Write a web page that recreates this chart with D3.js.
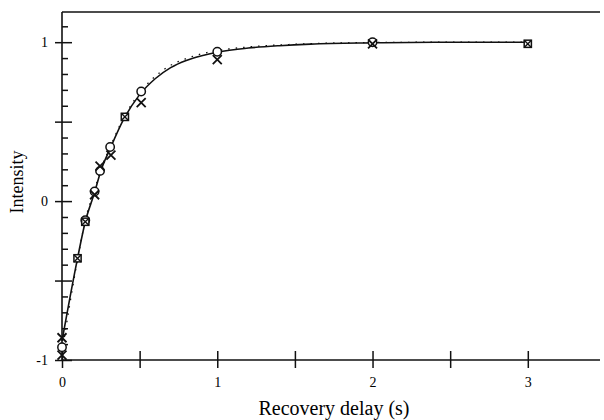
<!DOCTYPE html>
<html>
<head>
<meta charset="utf-8">
<script src="https://cdn.jsdelivr.net/npm/d3@7"></script>
<style>
  html, body { margin: 0; padding: 0; background: #fff; }
  svg { display: block; }
</style>
</head>
<body>
<svg id="chart" width="604" height="420"></svg>
<script>
// ---- data ----
const circleT = [0, 0.15, 0.21, 0.245, 0.31, 0.51, 1.0, 2.0];
const circleI = [-0.92, -0.12, 0.06, 0.19, 0.34, 0.69, 0.94, 1.0];

const crossT = [0, 0, 0.21, 0.245, 0.315, 0.51, 1.0, 2.0];
const crossI = [-0.86, -0.97, 0.04, 0.22, 0.29, 0.62, 0.89, 0.99];

const boxT = [0.1, 0.15, 0.405, 3.0];
const boxI = [-0.36, -0.13, 0.53, 0.99];

// solid fitted curve
const fitT = [0, 0.1, 0.15, 0.21, 0.25, 0.31, 0.4, 0.5, 0.6, 0.7, 0.8, 0.9, 1.0, 1.2, 1.4, 1.6, 2.0, 2.4, 3.0];
const fitI = [-0.88, -0.36, -0.13, 0.055, 0.19, 0.33, 0.52, 0.67, 0.77, 0.84, 0.885, 0.915, 0.937, 0.963, 0.978, 0.988, 0.996, 1.0, 1.0];

// dotted second curve
const dotT = [0, 0.1, 0.15, 0.21, 0.25, 0.31, 0.4, 0.5, 0.6, 0.7, 0.8, 0.9, 1.0, 1.2, 1.5, 2.0, 2.5, 3.0];
const dotI = [-0.95, -0.37, -0.12, 0.07, 0.2, 0.34, 0.53, 0.68, 0.785, 0.855, 0.897, 0.927, 0.947, 0.97, 0.987, 0.998, 1.0, 1.0];

const xTicks = [0, 0.5, 1, 1.5, 2, 2.5, 3];
const xLabels = {0: "0", 1: "1", 2: "2", 3: "3"};
const yMajor = [-1, -0.5, 0, 0.5, 1];
const yLabels = {"-1": "-1", "0": "0", "1": "1"};
const yMinor = [-0.9, -0.8, -0.7, -0.6, -0.4, -0.3, -0.2, -0.1, 0.1, 0.2, 0.3, 0.4, 0.6, 0.7, 0.8, 0.9, 1.1];

const xTitle = "Recovery delay (s)";
const yTitle = "Intensity";

// ---- drawing ----
const svg = d3.select("#chart");
const x = d3.scaleLinear().domain([0, 3.465]).range([62, 600]);
const y = d3.scaleLinear().domain([-1, 1.19]).range([360, 12]);

const ink = "#111";
const serif = '"Liberation Serif", "DejaVu Serif", serif';

// top line
svg.append("line").attr("x1", x(0)).attr("x2", 600).attr("y1", y(1.19)).attr("y2", y(1.19))
  .attr("stroke", ink).attr("stroke-width", 1.6);

// X axis: labels + ticks below, ticks above
const gx = svg.append("g").attr("transform", `translate(0,${y(-1)})`);
gx.call(d3.axisBottom(x).tickValues(xTicks).tickSize(8).tickPadding(9)
  .tickFormat(d => xLabels[d] || ""));
const gx2 = svg.append("g").attr("transform", `translate(0,${y(-1)})`);
gx2.call(d3.axisTop(x).tickValues(xTicks).tickSize(9).tickFormat(""));

// Y axis
const gy = svg.append("g").attr("transform", `translate(${x(0)},0)`);
gy.call(d3.axisLeft(y).tickValues(yMajor).tickSize(7).tickPadding(7)
  .tickFormat(d => yLabels[String(d)] || ""));
const gy2 = svg.append("g").attr("transform", `translate(${x(0)},0)`);
gy2.call(d3.axisRight(y).tickValues(yMajor).tickSize(10).tickFormat(""));
const gy3 = svg.append("g").attr("transform", `translate(${x(0)},0)`);
gy3.call(d3.axisRight(y).tickValues(yMinor).tickSize(6).tickFormat(""));

[gx, gx2, gy, gy2, gy3].forEach(g => {
  g.select(".domain").remove();
  g.attr("font-family", null).attr("font-size", null);
  g.selectAll(".tick line").attr("stroke", ink).attr("stroke-width", 1.5);
  g.selectAll("text").style("font-size", "14px").style("font-family", serif).attr("fill", "#000");
});
svg.append("line").attr("x1", x(0)).attr("x2", x(0)).attr("y1", y(1.19)).attr("y2", y(-1) + 1)
  .attr("stroke", ink).attr("stroke-width", 1.6);
svg.append("line").attr("x1", x(0)).attr("x2", 600).attr("y1", y(-1)).attr("y2", y(-1))
  .attr("stroke", ink).attr("stroke-width", 1.6);

// curves
const line = d3.line().curve(d3.curveMonotoneX).x(d => x(d[0])).y(d => y(d[1]));
svg.append("path").datum(dotT.map((t, i) => [t, dotI[i]]))
  .attr("d", line).attr("fill", "none").attr("stroke", ink).attr("stroke-width", 1.3)
  .attr("stroke-dasharray", "1.5,6");
svg.append("path").datum(fitT.map((t, i) => [t, fitI[i]]))
  .attr("d", line).attr("fill", "none").attr("stroke", ink).attr("stroke-width", 1.6);

// markers
svg.append("g").selectAll("circle").data(circleT.map((t, i) => [t, circleI[i]])).join("circle")
  .attr("cx", d => x(d[0])).attr("cy", d => y(d[1])).attr("r", 4.2)
  .attr("fill", "#fff").attr("stroke", ink).attr("stroke-width", 1.5);

const cs = 4.5;
svg.append("g").selectAll("path").data(crossT.map((t, i) => [t, crossI[i]])).join("path")
  .attr("d", d => {
    const cx = x(d[0]), cy = y(d[1]);
    return `M${cx - cs},${cy - cs}L${cx + cs},${cy + cs}M${cx - cs},${cy + cs}L${cx + cs},${cy - cs}`;
  })
  .attr("stroke", ink).attr("stroke-width", 1.8).attr("fill", "none");

const bs = 3.6;
const gb = svg.append("g").selectAll("g").data(boxT.map((t, i) => [t, boxI[i]])).join("g")
  .attr("transform", d => `translate(${x(d[0])},${y(d[1])})`);
gb.append("rect").attr("x", -bs).attr("y", -bs).attr("width", 2 * bs).attr("height", 2 * bs)
  .attr("fill", "#fff").attr("stroke", ink).attr("stroke-width", 1.5);
gb.append("path").attr("d", `M${-bs},${-bs}L${bs},${bs}M${-bs},${bs}L${bs},${-bs}`)
  .attr("stroke", ink).attr("stroke-width", 1.4);

// titles
svg.append("text").attr("x", 334).attr("y", 415).attr("text-anchor", "middle")
  .style("font-family", serif).style("font-size", "20px").attr("fill", "#000").text(xTitle);
svg.append("text").attr("transform", `translate(23,182) rotate(-90)`).attr("text-anchor", "middle")
  .style("font-family", serif).style("font-size", "18px").attr("fill", "#000").text(yTitle);
</script>
</body>
</html>
